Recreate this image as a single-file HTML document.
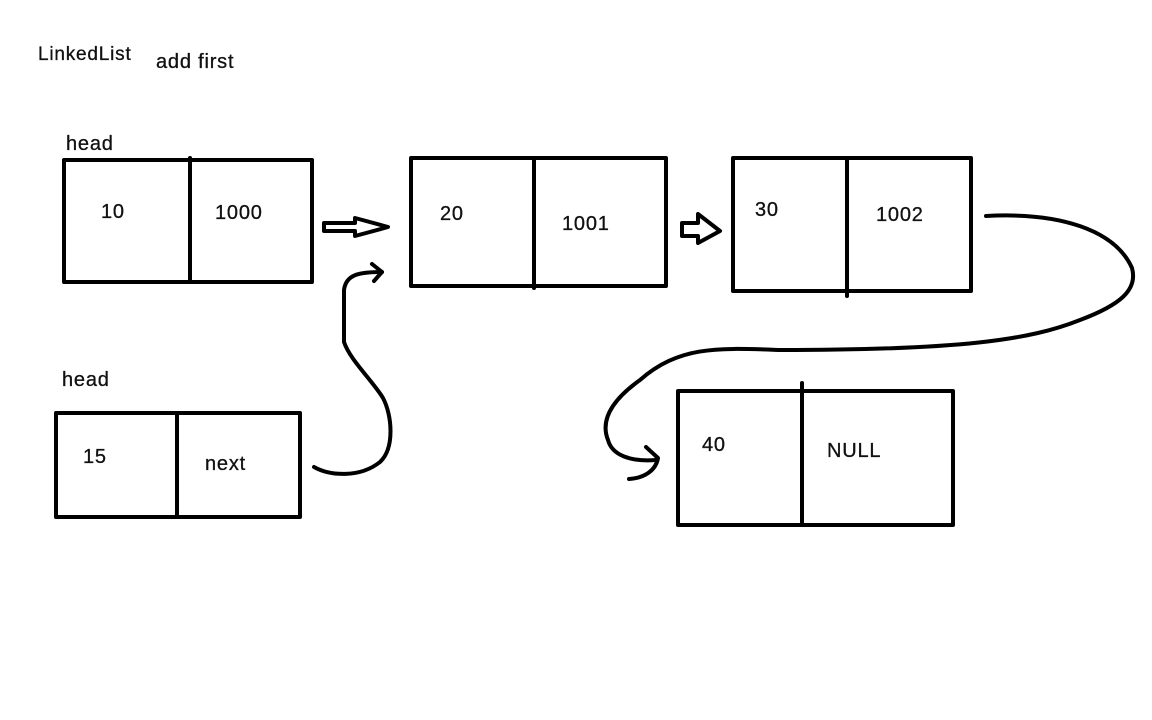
<!DOCTYPE html>
<html><head><meta charset="utf-8"><style>
html,body{margin:0;padding:0;background:#fff;}
svg{display:block;}
text{font-family:"Liberation Sans",sans-serif;font-size:20px;fill:#111;letter-spacing:0.8px;stroke:#111;stroke-width:0.3px;}
</style></head><body>
<svg width="1152" height="720" viewBox="0 0 1152 720" xmlns="http://www.w3.org/2000/svg">
<g fill="none" stroke="#000" stroke-width="4" stroke-linejoin="round" stroke-linecap="round">
<rect x="64" y="160" width="248" height="122"/>
<line x1="190" y1="158" x2="190" y2="282"/>
<rect x="411" y="158" width="255" height="128"/>
<line x1="534" y1="158" x2="534" y2="288"/>
<rect x="733" y="158" width="238" height="133"/>
<line x1="847" y1="158" x2="847" y2="296"/>
<rect x="678" y="391" width="275" height="134"/>
<line x1="802" y1="383" x2="802" y2="525"/>
<rect x="56" y="413" width="244" height="104"/>
<line x1="177" y1="413" x2="177" y2="517"/>
<path d="M324 223 L355 223 L355 218 L388 227 L355 236 L355 231 L324 231 Z" stroke-width="4"/>
<path d="M682 223 L698 223 L698 214 L720 231 L698 243 L698 236 L682 236 Z" stroke-width="4"/>
<path d="M314 467 C330 476 360 478 380 462 C395 448 392 415 383 398 C372 380 350 360 344 342 L344 290 C346 274 360 272 382 272" stroke-width="4"/>
<path d="M372 264 L382 272 L374 281" stroke-width="4"/>
<path d="M986 216 C1060 212 1115 230 1132 268 C1138 290 1120 305 1080 320 C1030 340 960 350 780 350 C720 348 680 345 640 380 C612 400 600 420 608 440 C612 455 630 462 656 460" stroke-width="4"/>
<path d="M646 447 L658 458 C656 470 645 478 629 479" stroke-width="4"/>
</g>
<text x="38" y="60" style="font-size:19px">LinkedList</text>
<text x="156" y="68">add first</text>
<text x="66" y="150">head</text>
<text x="62" y="386">head</text>
<text x="101" y="218">10</text>
<text x="215" y="219">1000</text>
<text x="440" y="220">20</text>
<text x="562" y="230">1001</text>
<text x="755" y="216">30</text>
<text x="876" y="221">1002</text>
<text x="83" y="463">15</text>
<text x="205" y="470">next</text>
<text x="702" y="451">40</text>
<text x="827" y="457">NULL</text>
</svg>
</body></html>
